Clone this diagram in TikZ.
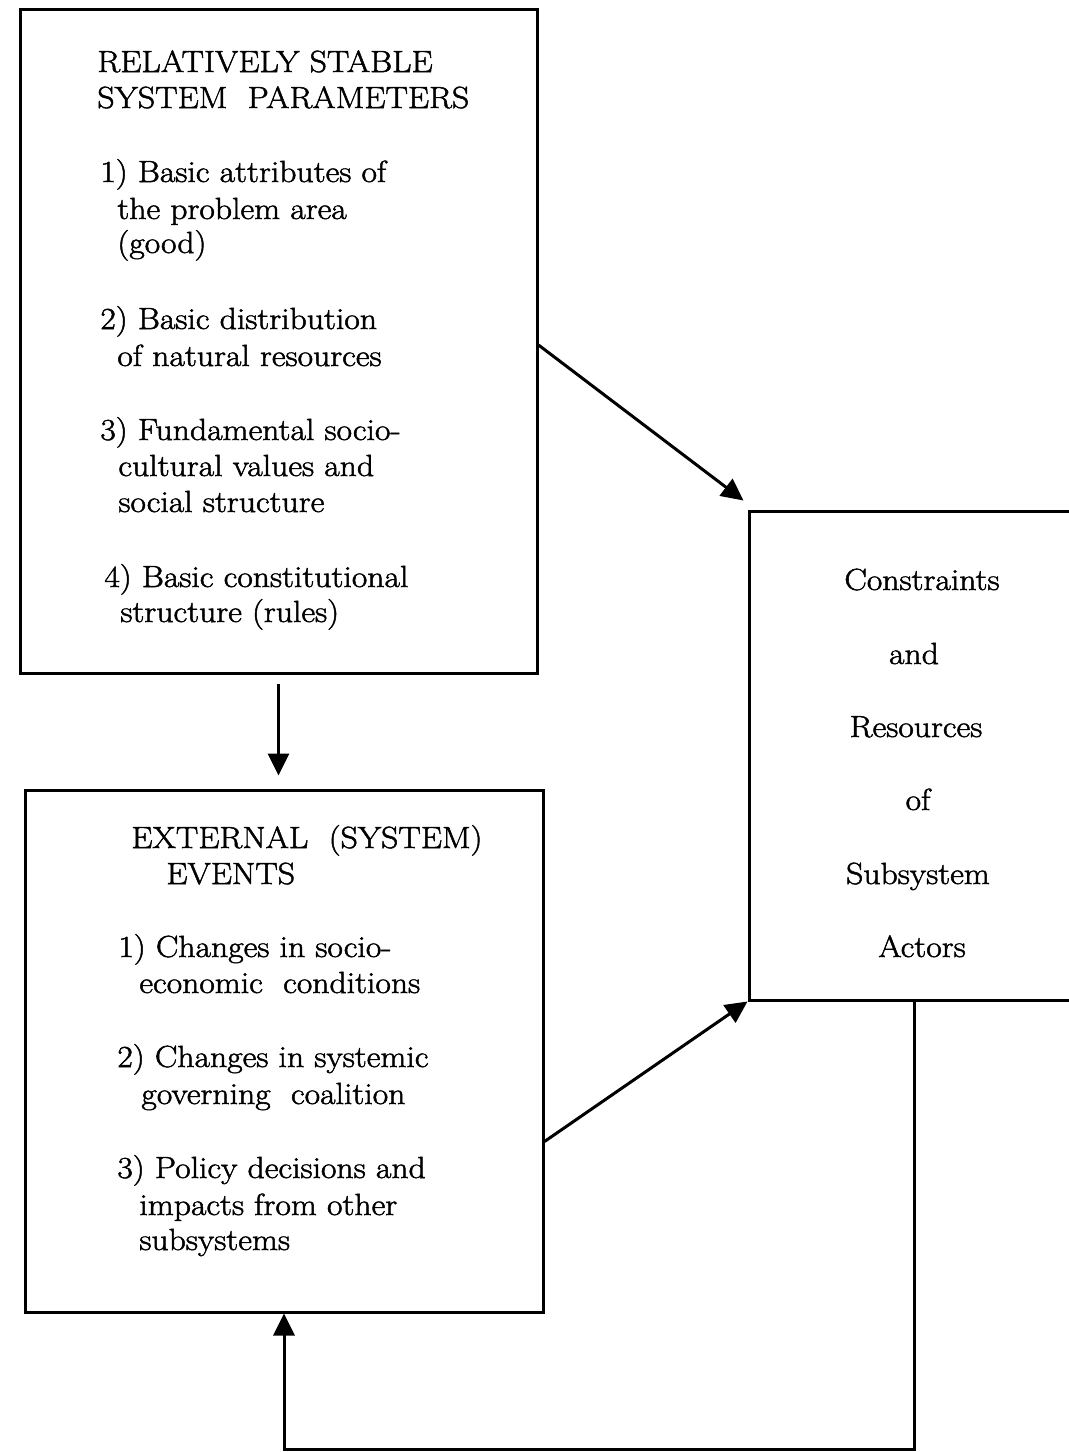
\documentclass[tikz,border=0pt]{standalone}
\usepackage{fontspec}
\setmainfont{Latin Modern Roman}[FakeStretch=1.1,FakeBold=1.6]
\usetikzlibrary{arrows.meta,calc}
\begin{document}
\begin{tikzpicture}[x=0.5pt,y=-0.5pt,
  box/.style={draw,line width=1.5pt,inner sep=0pt},
  txt/.style={anchor=base west,inner sep=0pt,font=\fontsize{15.3}{18}\selectfont},
  ctxt/.style={anchor=base,inner sep=0pt,font=\fontsize{15.3}{18}\selectfont},
  conn/.style={line width=1.5pt,-{Triangle[length=11pt,width=10.5pt]}}]
\useasboundingbox (0,0) rectangle (1069,1452);
\clip (0,0) rectangle (1069,1452);
% boxes
\node[box,minimum width=258.5pt,minimum height=332pt] (top) at (278.5,341) {};
\node[box,minimum width=259pt,minimum height=261pt] (mid) at (284,1051) {};
\node[box,minimum width=170pt,minimum height=244.5pt] (right) at (919,755.5) {};
% upper box text
\node[txt] (p0) at (97,72) {RELATIVELY STABLE};
\node[txt] (p1) at (97,108) {SYSTEM\ \ PARAMETERS};
\node[txt] (p2) at (100,182) {1) Basic attributes of};
\node[txt] (p3) at (117,219) {the problem area};
\node[txt] (p4) at (117,253) {(good)};
\node[txt] (p5) at (100,329) {2) Basic distribution};
\node[txt] (p6) at (117,366) {of natural resources};
\node[txt] (p7) at (100,440) {3) Fundamental socio-};
\node[txt] (p8) at (118,476) {cultural values and};
\node[txt] (p9) at (118,512) {social structure};
\node[txt] (p10) at (104,587) {4) Basic constitutional};
\node[txt] (p11) at (120,622) {structure (rules)};
% lower box text
\node[txt] (e0) at (131,848) {EXTERNAL\ \ (SYSTEM)};
\node[txt] (e1) at (166,884) {EVENTS};
\node[txt] (e2) at (118,957) {1) Changes in socio-};
\node[txt] (e3) at (139,993) {economic\ \ conditions};
\node[txt] (e4) at (117,1067) {2) Changes in systemic};
\node[txt] (e5) at (141,1104) {governing\ \ coalition};
\node[txt] (e6) at (117,1178) {3) Policy decisions and};
\node[txt] (e7) at (139,1215) {impacts from other};
\node[txt] (e8) at (139,1250) {subsystems};
% right box text
\node[ctxt] (r0) at (922,590) {Constraints};
\node[ctxt] (r1) at (914,664) {and};
\node[ctxt] (r2) at (916,737) {Resources};
\node[ctxt] (r3) at (918,810) {of};
\node[ctxt] (r4) at (918,884) {Subsystem};
\node[ctxt] (r5) at (922,957) {Actors};
% connectors
\coordinate (a1) at ($(top.east)+(0,4)$);
\coordinate (a1t) at ($(right.north west)+(-4,-9)$);
\draw[conn] (a1) -- (a1t);
\coordinate (a2) at ($(mid.south east)+(0,-172)$);
\draw[conn] (a2) -- (right.south west);
\draw[conn] ([yshift=-4.5pt]top.south) -- ([yshift=6.5pt]top.south |- mid.north);
\coordinate (fb) at ($(right.south west)+(167,0)$);
\draw[conn] (fb) -- ++(0,448) -| (mid.south);
\end{tikzpicture}
\end{document}
